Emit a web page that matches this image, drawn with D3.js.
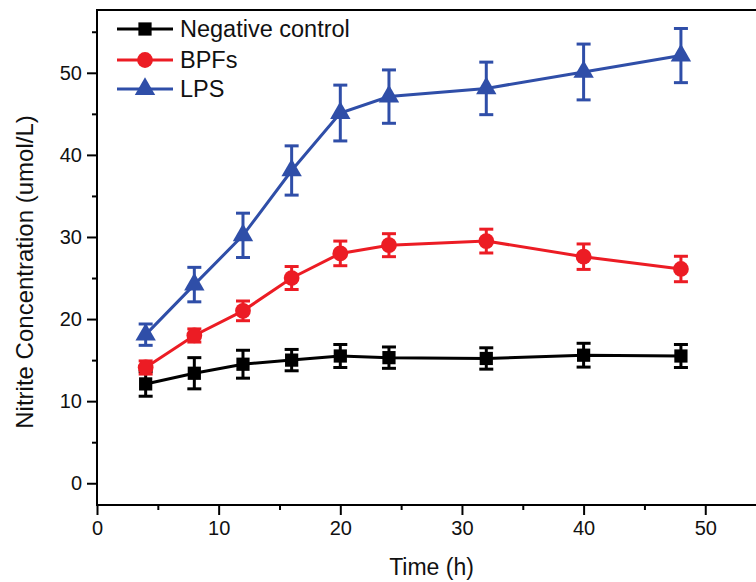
<!DOCTYPE html>
<html>
<head>
<meta charset="utf-8">
<script src="https://cdn.jsdelivr.net/npm/d3@7"></script>
<style>
  body { margin: 0; background: #fff; }
  text { font-family: "Liberation Sans", Arial, sans-serif; }
</style>
</head>
<body>
<div id="chart"></div>
<script>
const times = [4, 8, 12, 16, 20, 24, 32, 40, 48];
const negValues = [12.1, 13.4, 14.5, 15.0, 15.5, 15.3, 15.2, 15.6, 15.5];
const negErrors = [1.5, 1.9, 1.7, 1.3, 1.4, 1.3, 1.3, 1.45, 1.4];
const bpfValues = [14.1, 18.0, 21.0, 25.0, 28.0, 29.0, 29.5, 27.6, 26.1];
const bpfErrors = [0.8, 0.8, 1.2, 1.4, 1.5, 1.4, 1.45, 1.55, 1.55];
const lpsValues = [18.1, 24.2, 30.2, 38.1, 45.1, 47.1, 48.1, 50.1, 52.1];
const lpsErrors = [1.3, 2.1, 2.7, 3.0, 3.4, 3.25, 3.2, 3.4, 3.3];
const seriesNames = ["Negative control", "BPFs", "LPS"];
const xTicks = [0, 10, 20, 30, 40, 50];
const yTicks = [0, 10, 20, 30, 40, 50];

const W = 756, H = 582;
const margin = {top: 10, right: -4, bottom: 77, left: 97},
      width = W - margin.left - margin.right,
      height = H - margin.top - margin.bottom;

const colors = ["#000000", "#ec1c24", "#2f4ea8"];
const shapes = [d3.symbolSquare, d3.symbolCircle, d3.symbolTriangle];
const sizes = [175, 195, 180];

const series = seriesNames.map((name, i) => ({
  name: name,
  color: colors[i],
  values: times.map((t, j) => ({
    t: t,
    v: [negValues, bpfValues, lpsValues][i][j],
    e: [negErrors, bpfErrors, lpsErrors][i][j]
  }))
}));

const svg = d3.select("#chart")
  .append("svg")
  .attr("width", W)
  .attr("height", H);

const g = svg.append("g")
  .attr("transform", `translate(${margin.left},${margin.top})`);

const x = d3.scaleLinear().domain([0, 54.5]).range([0, width]);
const y = d3.scaleLinear().domain([-2.65, 57.65]).range([height, 0]);

// axes
const xAxis = g.append("g")
  .attr("transform", `translate(0,${height})`)
  .call(d3.axisBottom(x).tickValues(xTicks).tickSize(10).tickPadding(6));
const xMinor = g.append("g")
  .attr("transform", `translate(0,${height})`)
  .call(d3.axisBottom(x).tickValues([5, 15, 25, 35, 45]).tickSize(5).tickFormat(""));
const yAxis = g.append("g")
  .call(d3.axisLeft(y).tickValues(yTicks).tickSize(10).tickPadding(5));
const yMinor = g.append("g")
  .call(d3.axisLeft(y).tickValues([5, 15, 25, 35, 45, 55]).tickSize(5).tickFormat(""));

[xAxis, xMinor, yAxis, yMinor].forEach(a => {
  a.select(".domain").remove();
  a.selectAll("line").attr("stroke", "#000").attr("stroke-width", 2);
});
xAxis.selectAll("text").style("font-size", "20px").attr("fill", "#111");
yAxis.selectAll("text").style("font-size", "20px").attr("fill", "#111");

// frame
g.append("rect")
  .attr("x", 0).attr("y", 0)
  .attr("width", width).attr("height", height)
  .attr("fill", "none")
  .attr("stroke", "#000")
  .attr("stroke-width", 2);

const line = d3.line().x(d => x(d.t)).y(d => y(d.v));

series.forEach((s, i) => {
  const sg = g.append("g");
  sg.append("path")
    .datum(s.values)
    .attr("fill", "none")
    .attr("stroke", s.color)
    .attr("stroke-width", 3)
    .attr("d", line);

  const eb = sg.selectAll(".err")
    .data(s.values)
    .enter().append("g");
  eb.append("line")
    .attr("x1", d => x(d.t)).attr("x2", d => x(d.t))
    .attr("y1", d => y(d.v - d.e)).attr("y2", d => y(d.v + d.e))
    .attr("stroke", s.color).attr("stroke-width", 3);
  [-1, 1].forEach(k => {
    eb.append("line")
      .attr("x1", d => x(d.t) - 7).attr("x2", d => x(d.t) + 7)
      .attr("y1", d => y(d.v + k * d.e)).attr("y2", d => y(d.v + k * d.e))
      .attr("stroke", s.color).attr("stroke-width", 3);
  });

  sg.selectAll(".pt")
    .data(s.values)
    .enter().append("path")
    .attr("transform", d => `translate(${x(d.t)},${y(d.v)})`)
    .attr("d", d3.symbol().type(shapes[i]).size(sizes[i]))
    .attr("fill", s.color);
});

// legend
const legend = g.append("g").attr("transform", "translate(20,0)");
series.forEach((s, i) => {
  const ly = [19, 50, 79][i];
  const lg = legend.append("g").attr("transform", `translate(0,${ly})`);
  lg.append("line")
    .attr("x1", 0).attr("x2", 56)
    .attr("stroke", s.color).attr("stroke-width", 3);
  lg.append("path")
    .attr("transform", "translate(28,0)")
    .attr("d", d3.symbol().type(shapes[i]).size(sizes[i]))
    .attr("fill", s.color);
  lg.append("text")
    .attr("x", 63)
    .attr("dy", "0.35em")
    .style("font-size", "23.5px")
    .attr("fill", "#111")
    .text(s.name);
});

// axis titles
svg.append("text")
  .attr("x", margin.left + x(27.5))
  .attr("y", 575)
  .attr("text-anchor", "middle")
  .style("font-size", "23px")
  .attr("fill", "#111")
  .text("Time (h)");

svg.append("text")
  .attr("transform", `translate(33,272) rotate(-90)`)
  .attr("text-anchor", "middle")
  .style("font-size", "24px")
  .attr("fill", "#111")
  .text("Nitrite Concentration (umol/L)");
</script>
</body>
</html>
